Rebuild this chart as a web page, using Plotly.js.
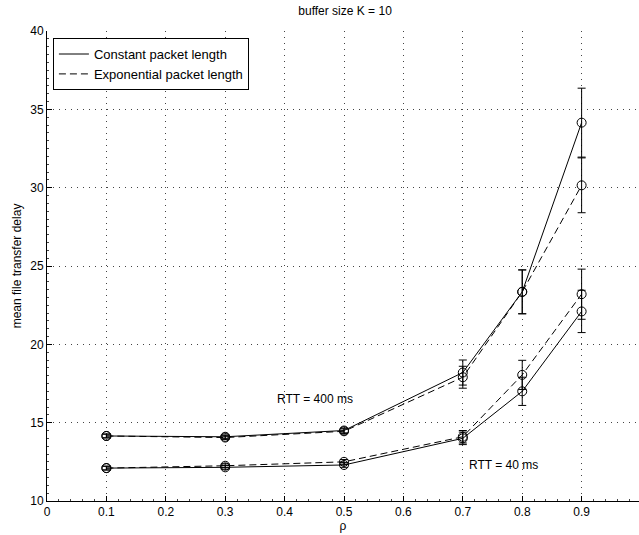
<!DOCTYPE html>
<html>
<head>
<meta charset="utf-8">
<script src="https://cdn.plot.ly/plotly-3.0.1.min.js"></script>
<style>html,body{margin:0;padding:0;background:#fff;}#chart{width:639px;height:535px;}</style>
</head>
<body>
<div id="chart"></div>
<script>
// rho values
const rho = [0.1, 0.3, 0.5, 0.7, 0.8, 0.9];

// RTT = 400 ms
const rtt400Const    = [14.15, 14.1, 14.5, 18.2, 23.35, 34.15];
const rtt400ConstErr = [0.12, 0.12, 0.15, 0.8, 1.4, 2.2];
const rtt400Exp      = [14.15, 14.05, 14.45, 17.9, 23.35, 30.15];
const rtt400ExpErr   = [0.12, 0.12, 0.15, 0.7, 1.4, 1.75];

// RTT = 40 ms
const rtt40Const    = [12.1, 12.15, 12.3, 14.0, 17.0, 22.1];
const rtt40ConstErr = [0.12, 0.12, 0.15, 0.4, 0.9, 1.35];
const rtt40Exp      = [12.1, 12.25, 12.5, 14.1, 18.05, 23.2];
const rtt40ExpErr   = [0.12, 0.12, 0.15, 0.4, 0.93, 1.6];

const xTickVals = [0, 0.1, 0.2, 0.3, 0.4, 0.5, 0.6, 0.7, 0.8, 0.9];
const xTickText = ['0', '0.1', '0.2', '0.3', '0.4', '0.5', '0.6', '0.7', '0.8', '0.9'];
const yTickVals = [10, 15, 20, 25, 30, 35, 40];

const legendNames = ['Constant packet length', 'Exponential packet length'];
const annTexts = ['RTT = 400 ms', 'RTT = 40 ms'];
const annX = [0.451, 0.769];
const annY = [16.5, 12.3];

const DASH = '7px,4px';
function series(y, err, dash) {
  return {
    x: rho, y: y, type: 'scatter', mode: 'lines+markers', showlegend: false,
    line: {color: 'black', width: 1, dash: dash},
    marker: {symbol: 'circle-open', size: 9, color: 'black', line: {width: 1, color: 'black'}},
    error_y: {type: 'data', array: err, visible: true, color: 'black', thickness: 1, width: 4},
    hoverinfo: 'skip'
  };
}

const data = [
  series(rtt400Const, rtt400ConstErr, 'solid'),
  series(rtt400Exp, rtt400ExpErr, DASH),
  series(rtt40Const, rtt40ConstErr, 'solid'),
  series(rtt40Exp, rtt40ExpErr, DASH),
  {x: [null], y: [null], type: 'scatter', mode: 'lines', name: legendNames[0],
   line: {color: 'black', width: 1, dash: 'solid'}},
  {x: [null], y: [null], type: 'scatter', mode: 'lines', name: legendNames[1],
   line: {color: 'black', width: 1, dash: DASH}}
];

const font = {family: '"Liberation Sans", Arial, sans-serif', color: 'black'};
const GRID = '1px,5px';

const layout = {
  width: 639, height: 535,
  margin: {l: 47, r: 0, t: 31, b: 34},
  paper_bgcolor: 'white', plot_bgcolor: 'white',
  font: Object.assign({size: 12}, font),
  title: {text: 'buffer size K = 10', font: Object.assign({size: 12}, font),
          x: 0.54, xanchor: 'center', y: 0.988, yanchor: 'top'},
  showlegend: true,
  legend: {x: 0.01, y: 0.985, xanchor: 'left', yanchor: 'top',
           bgcolor: 'white', bordercolor: 'black', borderwidth: 1,
           font: Object.assign({size: 13}, font), tracegroupgap: 0, itemwidth: 30},
  xaxis: {
    range: [0, 0.9966], tickvals: xTickVals, ticktext: xTickText,
    showgrid: true, gridcolor: '#444', griddash: GRID, gridwidth: 1,
    zeroline: false, showline: true, linecolor: 'black', linewidth: 1, mirror: false,
    ticks: 'inside', ticklen: 5, tickcolor: 'black',
    minor: {dtick: 0.02, ticks: 'inside', ticklen: 2, tickcolor: '#444', showgrid: false},
    tickfont: Object.assign({size: 12}, font),
    title: {text: 'ρ', font: Object.assign({size: 12}, font), standoff: 2}
  },
  yaxis: {
    range: [10, 40], tickvals: yTickVals,
    showgrid: true, gridcolor: '#444', griddash: GRID, gridwidth: 1,
    zeroline: false, showline: true, linecolor: 'black', linewidth: 1, mirror: false,
    ticks: 'inside', ticklen: 5, tickcolor: 'black',
    minor: {dtick: 0.5, ticks: 'inside', ticklen: 2, tickcolor: '#444', showgrid: false},
    tickfont: Object.assign({size: 12}, font),
    title: {text: 'mean file transfer delay', font: Object.assign({size: 12}, font), standoff: 6}
  },
  annotations: annTexts.map((t, i) => ({
    x: annX[i], y: annY[i], xref: 'x', yref: 'y', text: t, showarrow: false,
    font: Object.assign({size: 12}, font), xanchor: 'center', yanchor: 'middle'
  }))
};

Plotly.newPlot('chart', data, layout, {displayModeBar: false, staticPlot: true});
</script>
</body>
</html>
